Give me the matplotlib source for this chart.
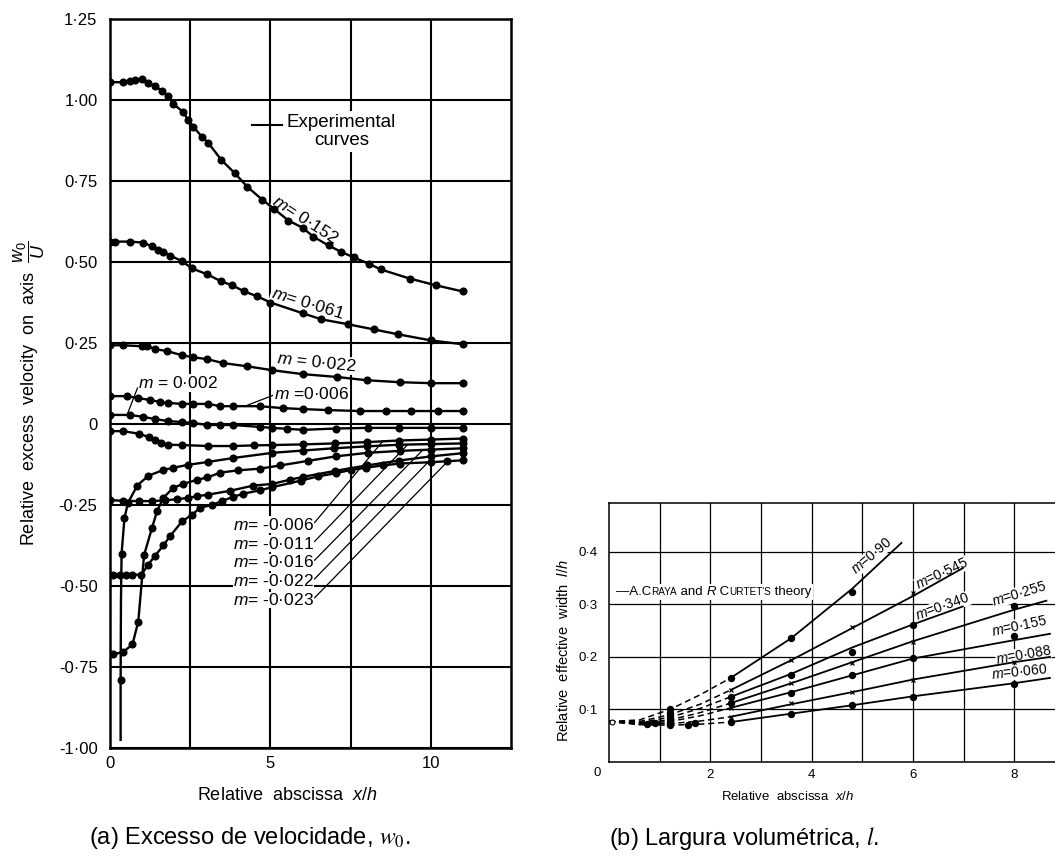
import numpy as np
import matplotlib
matplotlib.use('Agg')
import matplotlib.pyplot as plt
from matplotlib.offsetbox import TextArea, HPacker, AnnotationBbox

plt.rcParams['font.family'] = ['Liberation Sans', 'DejaVu Sans']
plt.rcParams['mathtext.fontset'] = 'custom'
plt.rcParams['mathtext.rm'] = 'Liberation Sans'
plt.rcParams['mathtext.it'] = 'Liberation Sans:italic'
plt.rcParams['mathtext.bf'] = 'Liberation Sans:bold'

# ---- (a) excess velocity on the axis w0/U against x/h ----
x_p152 = [0, 0.4, 0.62, 0.78, 1.0, 1.19, 1.41, 1.62, 1.81, 1.97, 2.28, 2.44, 2.6, 2.87, 3.06, 3.47,
          3.88, 4.28, 4.75, 5.1, 5.56, 6.0, 6.34, 6.81, 7.19, 7.6, 8.06, 8.44, 9.34, 10.16, 11.0]
w_p152 = [1.055, 1.055, 1.058, 1.062, 1.065, 1.052, 1.043, 1.028, 1.012, 0.988, 0.963, 0.938, 0.917,
          0.886, 0.868, 0.815, 0.775, 0.732, 0.692, 0.665, 0.628, 0.606, 0.578, 0.551, 0.532, 0.514,
          0.495, 0.477, 0.449, 0.428, 0.409]
x_p061 = [0, 0.16, 0.62, 1.03, 1.31, 1.5, 1.66, 1.88, 2.25, 2.56, 3.03, 3.47, 3.81, 4.19, 4.59, 5.0,
          6.0, 6.59, 7.41, 8.22, 8.97, 10.0, 11.0]
w_p061 = [0.563, 0.563, 0.563, 0.56, 0.548, 0.538, 0.532, 0.52, 0.502, 0.48, 0.462, 0.44, 0.428,
          0.409, 0.394, 0.375, 0.342, 0.323, 0.308, 0.292, 0.277, 0.258, 0.246]
x_p022 = [0, 0.4, 1.0, 1.16, 1.41, 1.78, 2.25, 2.59, 3.03, 3.53, 4.28, 5.06, 6.0, 7.09, 8.0, 9.03, 10.0, 11.0]
w_p022 = [0.243, 0.243, 0.24, 0.24, 0.231, 0.225, 0.212, 0.206, 0.2, 0.188, 0.178, 0.166, 0.154,
          0.145, 0.135, 0.129, 0.126, 0.126]
x_p006 = [0, 0.53, 0.88, 1.25, 1.56, 1.81, 2.25, 2.59, 3.06, 3.44, 3.84, 4.66, 5.38, 6.0, 6.78, 7.78,
          8.59, 9.38, 10.22, 11.0]
w_p006 = [0.086, 0.086, 0.08, 0.074, 0.068, 0.065, 0.062, 0.062, 0.062, 0.055, 0.055, 0.055, 0.049,
          0.046, 0.043, 0.04, 0.04, 0.04, 0.04, 0.04]
x_p002 = [0, 0.62, 1.03, 1.41, 1.81, 2.25, 2.59, 3.03, 3.44, 3.84, 4.66, 5.06, 5.53, 6.03, 7.03, 8.03, 9.0, 10.0, 11.0]
w_p002 = [0.028, 0.028, 0.022, 0.015, 0.009, 0.006, 0.003, -0.003, -0.003, -0.003, -0.009, -0.012,
          -0.015, -0.018, -0.014, -0.012, -0.012, -0.012, -0.012]
x_n006 = [0, 0.4, 0.9, 1.2, 1.41, 1.6, 1.81, 2.25, 3.06, 3.84, 4.5, 5.06, 6.0, 7.0, 8.0, 9.0, 10.0, 11.0]
w_n006 = [-0.022, -0.022, -0.03, -0.04, -0.05, -0.058, -0.064, -0.065, -0.068, -0.068, -0.066, -0.065,
          -0.063, -0.06, -0.056, -0.051, -0.048, -0.045]
x_n011 = [0.33, 0.33, 0.34, 0.36, 0.45, 0.56, 0.85, 1.19, 1.66, 1.97, 2.44, 3.06, 3.84, 5.06, 6.0,
          6.97, 8.0, 9.0, 10.0, 11.0]
w_n011 = [-0.975, -0.79, -0.55, -0.40, -0.29, -0.243, -0.19, -0.16, -0.142, -0.135, -0.126, -0.117,
          -0.105, -0.089, -0.082, -0.075, -0.069, -0.064, -0.062, -0.06]
x_n016 = [0.09, 0.4, 0.7, 0.88, 1.06, 1.31, 1.47, 1.66, 1.97, 2.28, 2.72, 3.03, 3.44, 4.0, 4.66, 5.3,
          6.16, 7.03, 8.03, 9.03, 10.0, 11.0]
w_n016 = [-0.71, -0.705, -0.68, -0.61, -0.405, -0.32, -0.268, -0.228, -0.197, -0.185, -0.172, -0.165,
          -0.15, -0.143, -0.138, -0.128, -0.114, -0.1, -0.089, -0.083, -0.079, -0.075]
x_n022 = [0, 0.4, 0.9, 1.3, 1.7, 2.1, 2.44, 2.72, 3.06, 3.75, 4.47, 5.06, 5.6, 6.03, 7.0, 8.0, 9.0, 10.0, 11.0]
w_n022 = [-0.235, -0.237, -0.238, -0.238, -0.236, -0.232, -0.228, -0.223, -0.218, -0.206, -0.19,
          -0.185, -0.172, -0.163, -0.145, -0.128, -0.113, -0.1, -0.09]
x_n023 = [0.09, 0.3, 0.5, 0.7, 0.98, 1.19, 1.41, 1.66, 1.88, 2.25, 2.56, 2.81, 3.19, 3.5, 3.84, 4.16,
          4.66, 5.06, 5.94, 6.47, 7.03, 7.5, 7.97, 8.5, 9.03, 10.0, 10.5, 11.0]
w_n023 = [-0.465, -0.465, -0.465, -0.465, -0.465, -0.434, -0.406, -0.375, -0.345, -0.3, -0.28, -0.258,
          -0.25, -0.237, -0.225, -0.215, -0.205, -0.195, -0.175, -0.162, -0.152, -0.142, -0.135,
          -0.128, -0.122, -0.118, -0.115, -0.112]

neg_labels = ['-0·006', '-0·011', '-0·016', '-0·022', '-0·023']
neg_curves = [(x_n006, w_n006), (x_n011, w_n011), (x_n016, w_n016), (x_n022, w_n022), (x_n023, w_n023)]
neg_leader_x = [8.5, 9.28, 9.75, 10.1, 10.53]

left_yticks = [1.25, 1.0, 0.75, 0.5, 0.25, 0, -0.25, -0.5, -0.75, -1.0]
left_yticklabels = ['1·25', '1·00', '0·75', '0·50', '0·25', '0', '-0·25', '-0·50', '-0·75', '-1·00']

# ---- (b) effective width l/h against x/h ----
m_right = ['0·90', '0·545', '0·340', '0·255', '0·155', '0·088', '0·060']
x_dash = [0, 0.6, 1.2, 1.8, 2.4]
l_dash = [
    [0.077, 0.080, 0.100, 0.128, 0.160],
    [0.077, 0.077, 0.090, 0.110, 0.137],
    [0.077, 0.075, 0.085, 0.102, 0.124],
    [0.077, 0.074, 0.080, 0.094, 0.112],
    [0.077, 0.073, 0.077, 0.088, 0.103],
    [0.077, 0.072, 0.073, 0.078, 0.086],
    [0.077, 0.071, 0.070, 0.072, 0.076],
]
x_theory = [
    [2.4, 3.6, 4.8, 5.77],
    [2.4, 3.6, 4.8, 6.0, 6.98],
    [2.4, 3.6, 4.8, 6.0, 6.98],
    [2.4, 3.6, 4.8, 6.0, 8.0, 8.63],
    [2.4, 3.6, 4.8, 6.0, 8.0, 8.7],
    [2.4, 3.6, 4.8, 6.0, 8.0, 8.7],
    [2.4, 3.6, 4.8, 6.0, 8.0, 8.7],
]
l_theory = [
    [0.160, 0.236, 0.330, 0.417],
    [0.137, 0.194, 0.255, 0.316, 0.369],
    [0.124, 0.168, 0.218, 0.262, 0.296],
    [0.112, 0.150, 0.190, 0.230, 0.290, 0.307],
    [0.103, 0.133, 0.165, 0.197, 0.232, 0.244],
    [0.086, 0.110, 0.133, 0.157, 0.190, 0.200],
    [0.076, 0.092, 0.108, 0.125, 0.150, 0.160],
]
# measured widths (dots)
x_dots = [
    [1.2, 2.4, 3.6, 4.8],
    [1.2],
    [1.2, 2.4, 3.6, 4.8, 6.0],
    [1.2, 2.4, 8.0],
    [1.2, 3.6, 4.8, 6.0, 8.0],
    [0.9, 1.2, 1.7],
    [0.75, 1.2, 1.55, 2.4, 3.6, 4.8, 6.0, 8.0],
]
l_dots = [
    [0.101, 0.160, 0.236, 0.324],
    [0.094],
    [0.088, 0.124, 0.166, 0.209, 0.261],
    [0.082, 0.112, 0.297],
    [0.077, 0.131, 0.166, 0.198, 0.240],
    [0.074, 0.073, 0.075],
    [0.072, 0.070, 0.071, 0.076, 0.091, 0.109, 0.124, 0.149],
]
# measured widths (crosses)
x_cross = [[], [2.4, 3.6, 4.8, 6.0], [], [3.6, 4.8, 6.0], [2.4], [2.4, 3.6, 4.8, 6.0, 8.0], []]
l_cross = [[], [0.137, 0.194, 0.257, 0.322], [], [0.150, 0.189, 0.229], [0.103],
           [0.086, 0.112, 0.134, 0.156, 0.191], []]
x_start, l_start = 0.05, 0.077

right_label_pos = [(5.19, 0.392, 40), (6.57, 0.358, 25), (6.59, 0.295, 20), (8.1, 0.32, 17),
                   (8.1, 0.259, 12), (8.19, 0.204, 10), (8.1, 0.171, 6)]

fig = plt.figure(figsize=(10.55, 8.65), dpi=100)

# ================= left panel =================
ax1 = fig.add_axes([0.1043, 0.1353, 0.3801, 0.8427])
ax1.set_xlim(0, 12.5)
ax1.set_ylim(-1.0, 1.25)
ax1.set_axisbelow(True)
ax1.set_xticks([0, 5, 10])
ax1.set_xticklabels(['0', '5', '10'])
ax1.set_xticks([2.5, 7.5], minor=True)
ax1.set_yticks(left_yticks)
ax1.set_yticklabels(left_yticklabels)
ax1.grid(True, which='both', color='k', lw=1.5)
ax1.tick_params(which='both', length=0, labelsize=12)
ax1.tick_params(axis='y', pad=9)
ax1.tick_params(axis='x', pad=6)
for s in ax1.spines.values():
    s.set_linewidth(1.8)

line_kw = dict(color='k', lw=1.7, marker='o', ms=4.8, zorder=3)
for xs, ws in [(x_p152, w_p152), (x_p061, w_p061), (x_p022, w_p022), (x_p006, w_p006), (x_p002, w_p002),
               (x_n006, w_n006), (x_n016, w_n016), (x_n022, w_n022), (x_n023, w_n023)]:
    ax1.plot(xs, ws, **line_kw)
ax1.plot(x_n011, w_n011, markevery=[1] + list(range(3, len(x_n011))), **line_kw)

lab_kw = dict(fontsize=12.5, ha='center', va='center', zorder=2,
              bbox=dict(fc='white', ec='none', pad=0.6))
ax1.text(6.1, 0.63, r'$m$= 0·152', rotation=-33, **lab_kw)
ax1.text(6.16, 0.372, r'$m$= 0·061', rotation=-17, **lab_kw)
ax1.text(6.44, 0.19, r'$m$ = 0·022', rotation=-6, **lab_kw)
ax1.annotate(r'$m$ =0·006', xy=(4.28, 0.058), xytext=(6.28, 0.092), **lab_kw,
             arrowprops=dict(arrowstyle='-', lw=0.9, color='k', relpos=(0, 0.45), shrinkA=0, shrinkB=0))
ax1.annotate(r'$m$ = 0·002', xy=(0.53, 0.028), xytext=(2.13, 0.126), **lab_kw,
             arrowprops=dict(arrowstyle='-', lw=0.9, color='k', relpos=(0, 0.35), shrinkA=0, shrinkB=0))

row_y = [-0.311, -0.369, -0.427, -0.485, -0.543]
for lab, (xs, ws), xl, yr in zip(neg_labels, neg_curves, neg_leader_x, row_y):
    ax1.annotate(r'$m$= ' + lab, xy=(xl, np.interp(xl, xs, ws)), xytext=(3.84, yr),
                 fontsize=12.5, ha='left', va='center', zorder=2,
                 bbox=dict(fc='white', ec='none', pad=0.3),
                 arrowprops=dict(arrowstyle='-', lw=0.9, color='k', relpos=(1, 0.6),
                                 shrinkA=0, shrinkB=0))

# key for the measured curves
ax1.plot([0.355, 0.43], [0.855, 0.855], transform=ax1.transAxes, color='k', lw=1.5, zorder=3)
ax1.text(0.441, 0.870, 'Experimental\ncurves', transform=ax1.transAxes, fontsize=13.5,
         ha='left', va='top', multialignment='center', linespacing=1.1, zorder=2,
         bbox=dict(fc='white', ec='none', pad=2))

fig.text(29 / 1055, 1 - 393 / 865, r'Relative  excess  velocity  on  axis  $\dfrac{w_0}{U}$',
         rotation=90, ha='center', va='center', fontsize=13)
fig.text(287.5 / 1055, 1 - 795 / 865, r'Relative  abscissa  $x/h$', ha='center', va='center', fontsize=13)

# ================= right panel =================
ax2 = fig.add_axes([0.5773, 0.1191, 0.4227, 0.2994])
ax2.set_xlim(0, 8.8)
ax2.set_ylim(0, 0.493)
ax2.set_axisbelow(True)
ax2.set_xticks([2, 4, 6, 8])
ax2.set_xticks([1, 3, 5, 7], minor=True)
ax2.set_yticks([0.1, 0.2, 0.3, 0.4])
ax2.set_yticklabels(['0·1', '0·2', '0·3', '0·4'])
ax2.grid(True, which='both', color='k', lw=0.9)
ax2.tick_params(which='both', length=0, labelsize=9.5)
ax2.tick_params(axis='y', pad=8)
ax2.tick_params(axis='x', pad=5)
ax2.spines['right'].set_visible(False)
for s in ['left', 'top', 'bottom']:
    ax2.spines[s].set_linewidth(1.1)

for i in range(len(m_right)):
    ax2.plot(x_dash, l_dash[i], color='k', lw=1.1, dashes=(4, 2.5), zorder=3)
    ax2.plot(x_theory[i], l_theory[i], color='k', lw=1.3, zorder=3)
    ax2.plot(x_dots[i], l_dots[i], 'o', color='k', ms=4.3, zorder=4)
    if x_cross[i]:
        ax2.plot(x_cross[i], l_cross[i], 'x', color='k', ms=3.5, mew=0.9, zorder=4)
    lx, ly, rot = right_label_pos[i]
    ax2.text(lx, ly, r'$m$=' + m_right[i], rotation=rot, fontsize=10, ha='center', va='center',
             zorder=2, clip_on=False, bbox=dict(fc='white', ec='none', pad=0.2))
ax2.plot(x_start, l_start, 'o', mfc='white', mec='k', ms=3.5, mew=0.8, zorder=4, clip_on=False)

ax2.annotate('0', xy=(0, 0), xycoords='axes fraction', xytext=(-12, -11),
             textcoords='offset pixels', fontsize=9.5, ha='center', va='center')

# theory key with small capitals
parts = [('—A.C', 9.5), ('RAYA', 7.2), (' and ', 9.5), ('R', 9.5), (' C', 9.5), ("URTET'S", 7.2), (' theory', 9.5)]
packed = HPacker(children=[TextArea(t, textprops=dict(fontsize=s, style='italic' if t == 'R' else 'normal'))
                           for t, s in parts], align='baseline', pad=0, sep=0)
ab = AnnotationBbox(packed, (0.016, 0.656), xycoords='axes fraction', box_alignment=(0, 0.5),
                    frameon=True, pad=0.15, bboxprops=dict(fc='white', ec='none'), zorder=2)
ax2.add_artist(ab)

fig.text(563 / 1055, 1 - 651 / 865, r'Relative  effective  width  $l/h$', rotation=90,
         ha='center', va='center', fontsize=10.5)
fig.text(788 / 1055, 1 - 797 / 865, r'Relative  abscissa  $x/h$', ha='center', va='center', fontsize=9.5)

# captions
fig.text(250 / 1055, 1 - 838 / 865, r'(a) Excesso de velocidade, $w_0$.', ha='center', va='center',
         fontsize=17, math_fontfamily='stix')
fig.text(744 / 1055, 1 - 838 / 865, r'(b) Largura volumétrica, $l$.', ha='center', va='center',
         fontsize=17, math_fontfamily='stix')

fig.savefig('out.png', dpi=100)
